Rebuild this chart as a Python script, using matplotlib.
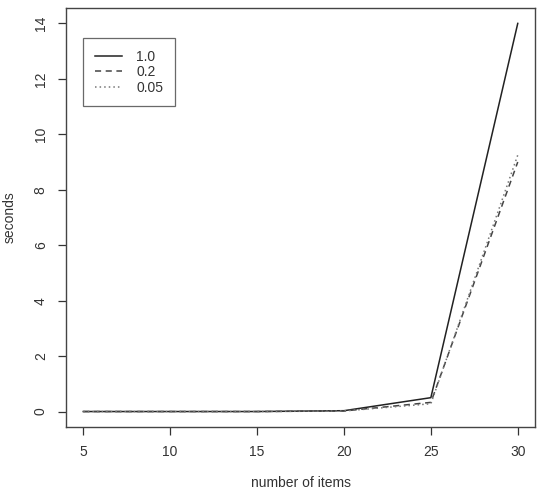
import matplotlib.pyplot as plt

plt.rcParams['font.family'] = ['Liberation Sans', 'DejaVu Sans']

items = [5, 10, 15, 20, 25, 30]
t_10 = [0.0, 0.0, 0.0, 0.03, 0.5, 14.0]
t_02 = [0.0, 0.0, 0.0, 0.02, 0.33, 9.0]
t_005 = [0.0, 0.0, 0.0, 0.02, 0.28, 9.25]
labels = ['1.0', '0.2', '0.05']

fig = plt.figure(figsize=(5.4, 4.92), dpi=100)
ax = fig.add_axes([0.122, 0.132, 0.869, 0.852])

ax.plot(items, t_10, color='#222222', lw=1.1, ls='-', label=labels[0])
ax.plot(items, t_02, color='#444444', lw=1.1, ls=(0, (4, 3)), label=labels[1])
ax.plot(items, t_005, color='#777777', lw=1.1, ls=(0, (1, 2)), label=labels[2])

ax.set_xlim(4, 31)
ax.set_ylim(-0.56, 14.56)
ax.set_xticks([5, 10, 15, 20, 25, 30])
ax.set_yticks([0, 2, 4, 6, 8, 10, 12, 14])
for lab in ax.get_yticklabels():
    lab.set_rotation(90)
    lab.set_va('center')
ax.tick_params(direction='out', length=6, width=0.9, colors='#333333',
               labelsize=10, pad=7)
for s in ax.spines.values():
    s.set_color('#444444')
    s.set_linewidth(1.0)

ax.set_xlabel('number of items', fontsize=10, color='#333333', labelpad=12)
ax.set_ylabel('seconds', fontsize=10, color='#333333', labelpad=12)

leg = ax.legend(loc='upper left', bbox_to_anchor=(0.036, 0.928), fancybox=False,
                edgecolor='#444444', fontsize=10, handlelength=2.0,
                borderaxespad=0, labelspacing=0.1, handletextpad=1.0,
                borderpad=0.85)
leg.get_frame().set_linewidth(0.9)
for t in leg.get_texts():
    t.set_color('#333333')

fig.savefig('out.png', dpi=100)
